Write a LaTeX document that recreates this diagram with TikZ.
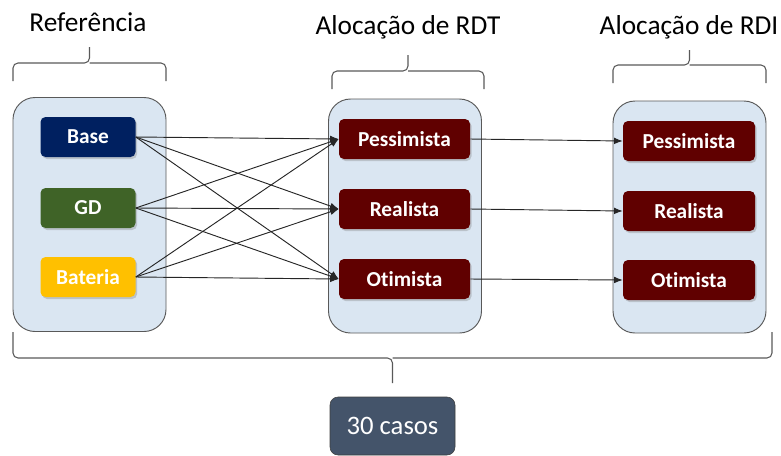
\documentclass[tikz,border=0pt]{standalone}
\usepackage{fontspec}
\setmainfont{Carlito}[Ligatures=NoCommon]
\usetikzlibrary{shadows,arrows.meta}

\definecolor{Rahmen}{HTML}{595959}
\definecolor{Hell}{HTML}{DAE6F2}
\definecolor{Navy}{HTML}{002060}
\definecolor{Gruen}{HTML}{3F6327}
\definecolor{Gold}{HTML}{FFC000}
\definecolor{Weinrot}{HTML}{600000}
\definecolor{Schiefer}{HTML}{44546A}

\newcommand{\px}{0.75pt}
\newcommand{\GroupW}{153}
\newcommand{\GroupH}{234}
\newcommand{\CaseH}{40}
\newcommand{\TitleFont}{\fontsize{20.5}{23}\selectfont}
\newcommand{\CaseFont}{\fontsize{16}{18}\selectfont\bfseries}
\newcommand{\drawKlammer}[5]{
    \draw[Rahmen, line width=0.8pt, rounded corners=5*\px] (#1,#4) -- (#1,#3) -- ({(#1+#2)/2},#3) -- ({(#1+#2)/2},#5);
    \draw[Rahmen, line width=0.8pt, rounded corners=5*\px] ({(#1+#2)/2},#3) -- (#2,#3) -- (#2,#4);
}

\tikzset{
    gruppe/.style={draw=Rahmen, line width=0.7pt, fill=Hell, rounded corners=22*\px, minimum width=\GroupW*\px, minimum height=\GroupH*\px},
    fall/.style={rounded corners=5*\px, minimum height=\CaseH*\px, text=white, font=\CaseFont,
        drop shadow={shadow xshift=1.2pt, shadow yshift=-1.5pt, opacity=0.35}},
    pfeil/.style={-{Latex[length=6.5pt,width=5pt]}, line width=0.7pt, black!85}
}

\begin{document}
\begin{tikzpicture}[x=\px, y=-\px]
    \useasboundingbox (0,0) rectangle (781,455);

    \node[gruppe] (GrpRef) at (89.5,214.5) {};
    \node[gruppe] (GrpRDT) at (405,216) {};
    \node[gruppe, minimum height=232*\px] (GrpRDI) at (689.5,217) {};

    \node[font=\TitleFont] (TitRef) at (88,22) {Referência};
    \node[font=\TitleFont] (TitRDT) at (408,27) {Alocação de RDT};
    \node[font=\TitleFont] (TitRDI) at (689,27) {Alocação de RDI};

    \drawKlammer{13}{166}{63}{81}{47}
    \drawKlammer{332}{484}{71}{89}{55}
    \drawKlammer{613}{766}{65}{83}{50}
    \drawKlammer{13}{772}{358}{332}{383}

    \node[fall, fill=Navy, minimum width=95*\px] (Base) at (88,137) {Base};
    \node[fall, fill=Gruen, minimum width=95*\px] (GD) at (88,208) {GD};
    \node[fall, fill=Gold, minimum width=95*\px] (Bateria) at (88,277) {Bateria};

    \node[fall, fill=Weinrot, minimum width=131*\px] (PesT) at (404.5,139) {Pessimista};
    \node[fall, fill=Weinrot, minimum width=131*\px] (ReaT) at (404.5,209) {Realista};
    \node[fall, fill=Weinrot, minimum width=131*\px] (OtiT) at (404.5,279) {Otimista};

    \node[fall, fill=Weinrot, minimum width=132*\px] (PesI) at (689,141) {Pessimista};
    \node[fall, fill=Weinrot, minimum width=132*\px] (ReaI) at (689,211) {Realista};
    \node[fall, fill=Weinrot, minimum width=132*\px] (OtiI) at (689,280) {Otimista};

    \draw[pfeil] (Base.east) -- (PesT.west);
    \draw[pfeil] (Base.east) -- (ReaT.west);
    \draw[pfeil] (Base.east) -- (OtiT.west);
    \draw[pfeil] (GD.east) -- (PesT.west);
    \draw[pfeil] (GD.east) -- (ReaT.west);
    \draw[pfeil] (GD.east) -- (OtiT.west);
    \draw[pfeil] (Bateria.east) -- (PesT.west);
    \draw[pfeil] (Bateria.east) -- (ReaT.west);
    \draw[pfeil] (Bateria.east) -- (OtiT.west);

    \draw[pfeil] (PesT.east) -- (PesI.west);
    \draw[pfeil] (ReaT.east) -- (ReaI.west);
    \draw[pfeil] (OtiT.east) -- (OtiI.west);

    \node[draw=Rahmen!70!black, fill=Schiefer, rounded corners=8*\px, text=white, minimum width=125*\px, minimum height=58*\px,
        font=\fontsize{20}{23}\selectfont] (Casos) at (392.5,426) {30 casos};
\end{tikzpicture}
\end{document}
